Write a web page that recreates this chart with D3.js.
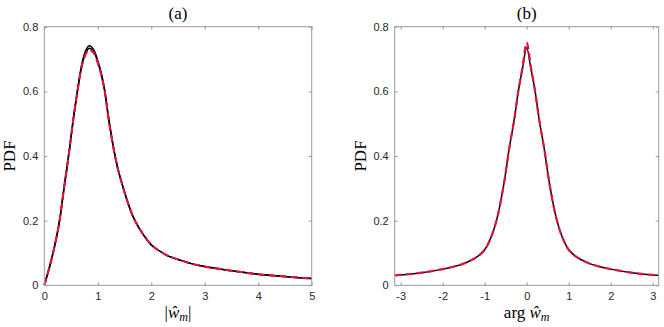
<!DOCTYPE html>
<html><head><meta charset="utf-8">
<script src="https://cdn.jsdelivr.net/npm/d3@7"></script>
<style>body{margin:0;background:#fff}</style></head>
<body><svg id="c" width="664" height="327"></svg>
<script>
// ---- data: panel (a) |w_m| ----
const magX   = [0, 0.1, 0.17, 0.23, 0.29, 0.36, 0.47, 0.54, 0.62, 0.68, 0.72, 0.78, 0.84, 0.92, 1.0, 1.06, 1.13, 1.2, 1.29, 1.37, 1.45, 1.55, 1.66, 1.77, 1.88, 2.0, 2.13, 2.3, 2.54, 2.75, 3.0, 3.3, 3.6, 4.0, 4.5, 5.0];
const magBlackA = [0, 0.058, 0.105, 0.15, 0.205, 0.29, 0.42, 0.512, 0.603, 0.666, 0.698, 0.728, 0.741, 0.73, 0.695, 0.66, 0.603, 0.52, 0.43, 0.365, 0.316, 0.262, 0.212, 0.178, 0.15, 0.125, 0.109, 0.092, 0.078, 0.067, 0.058, 0.05, 0.043, 0.034, 0.027, 0.021];
const magBlackB = [0, 0.058, 0.105, 0.15, 0.205, 0.29, 0.42, 0.51, 0.6, 0.662, 0.692, 0.72, 0.733, 0.724, 0.69, 0.656, 0.6, 0.518, 0.428, 0.364, 0.316, 0.262, 0.212, 0.178, 0.15, 0.125, 0.109, 0.092, 0.078, 0.067, 0.058, 0.05, 0.043, 0.034, 0.027, 0.021];
const magRed    = [0, 0.058, 0.105, 0.15, 0.205, 0.29, 0.42, 0.51, 0.6, 0.66, 0.69, 0.717, 0.728, 0.72, 0.688, 0.655, 0.6, 0.518, 0.428, 0.364, 0.316, 0.262, 0.212, 0.178, 0.15, 0.125, 0.109, 0.092, 0.078, 0.067, 0.058, 0.05, 0.043, 0.034, 0.027, 0.021];
// ---- data: panel (b) arg w_m ----
const argX     = [-3.1416, -3.0, -2.5, -2.0, -1.7, -1.5, -1.3, -1.15, -1.0, -0.85, -0.7, -0.54, -0.42, -0.3, -0.2, -0.1, 0, 0.1, 0.2, 0.3, 0.42, 0.54, 0.7, 0.85, 1.0, 1.15, 1.3, 1.5, 1.7, 2.0, 2.5, 3.0, 3.1416];
const argBlack = [0.031, 0.032, 0.039, 0.05, 0.059, 0.067, 0.079, 0.091, 0.11, 0.148, 0.21, 0.316, 0.42, 0.51, 0.6, 0.67, 0.735, 0.67, 0.6, 0.51, 0.42, 0.316, 0.21, 0.148, 0.11, 0.091, 0.079, 0.067, 0.059, 0.05, 0.039, 0.032, 0.031];
const argRed   = [0.031, 0.032, 0.039, 0.05, 0.059, 0.067, 0.079, 0.091, 0.11, 0.148, 0.21, 0.316, 0.42, 0.51, 0.6, 0.675, 0.751, 0.675, 0.6, 0.51, 0.42, 0.316, 0.21, 0.148, 0.11, 0.091, 0.079, 0.067, 0.059, 0.05, 0.039, 0.032, 0.031];
// ---- ticks ----
const magTicks = [0, 1, 2, 3, 4, 5];
const argTicks = [-3, -2, -1, 0, 1, 2, 3];
const pdfTicks = [0, 0.2, 0.4, 0.6, 0.8];
const titles = ["(a)", "(b)"];

const svg = d3.select("#c");
const axisCol = "#9a9a9a", textCol = "#262626";
const tickFont = "'Liberation Sans', Arial, sans-serif";
const serif = "'Liberation Serif', 'DejaVu Serif', serif";

function panel(cfg) {
  const x = d3.scaleLinear().domain(cfg.xdom).range([cfg.x0, cfg.x1]);
  const y = d3.scaleLinear().domain([0, 0.8]).range([285.3, 26.7]);
  const g = svg.append("g");
  const line = (ys) => d3.line().x((d, i) => x(cfg.xs[i])).y(d => y(d)).curve(d3.curveCatmullRom.alpha(0.5))(ys);
  cfg.blacks.forEach(b => g.append("path").attr("d", line(b)).attr("fill", "none")
    .attr("stroke", "#000").attr("stroke-width", 1.5));
  g.append("path").attr("d", line(cfg.red)).attr("fill", "none")
    .attr("stroke", "#e0143c").attr("stroke-width", 2.2).attr("stroke-dasharray", "7,4");
  const style = a => {
    a.select(".domain").remove();
    a.selectAll(".tick line").attr("stroke", axisCol);
    a.selectAll(".tick text").attr("fill", textCol).style("font-family", tickFont).style("font-size", "11px");
  };
  g.append("g").attr("transform", `translate(0,${y(0)})`)
    .call(d3.axisBottom(x).tickValues(cfg.xticks).tickSize(-3).tickPadding(7).tickFormat(d => String(d))).call(style);
  g.append("g").attr("transform", `translate(0,${y(0.8)})`)
    .call(d3.axisTop(x).tickValues(cfg.xticks).tickSize(-3).tickFormat("")).call(style);
  g.append("g").attr("transform", `translate(${cfg.x0},0)`)
    .call(d3.axisLeft(y).tickValues(pdfTicks).tickSize(-3).tickPadding(6).tickFormat(d => d === 0 ? "0" : d3.format(".1f")(d))).call(style);
  g.append("g").attr("transform", `translate(${cfg.x1},0)`)
    .call(d3.axisRight(y).tickValues(pdfTicks).tickSize(-3).tickFormat("")).call(style);
  g.append("rect").attr("x", cfg.x0).attr("y", y(0.8)).attr("width", cfg.x1 - cfg.x0).attr("height", y(0) - y(0.8))
    .attr("fill", "none").attr("stroke", axisCol).attr("stroke-width", 1);
  g.append("text").attr("x", (cfg.x0 + cfg.x1) / 2).attr("y", 19).attr("text-anchor", "middle")
    .style("font-family", serif).style("font-size", "17px").attr("fill", "#000").text(cfg.title);
  g.append("text").attr("transform", `translate(${cfg.x0 - 35},${(y(0) + y(0.8)) / 2}) rotate(-90)`)
    .attr("text-anchor", "middle").attr("dy", "0.35em")
    .style("font-family", serif).style("font-size", "17px").attr("fill", "#000").text("PDF");
  const t = g.append("text").attr("x", (cfg.x0 + cfg.x1) / 2).attr("y", 318).attr("text-anchor", "middle")
    .style("font-family", serif).style("font-size", "17px").attr("fill", "#000");
  cfg.xlabel(t);
}

panel({
  x0: 44.3, x1: 311.7, xdom: [0, 5], xs: magX, blacks: [magBlackA, magBlackB], red: magRed,
  xticks: magTicks, title: titles[0],
  xlabel: t => {
    t.append("tspan").text("|");
    t.append("tspan").style("font-style", "italic").text("\u0175");
    t.append("tspan").style("font-style", "italic").style("font-size", "12px").attr("dy", 3).text("m");
    t.append("tspan").attr("dy", -3).text("|");
  }
});
panel({
  x0: 394.7, x1: 658.7, xdom: [-Math.PI, Math.PI], xs: argX, blacks: [argBlack], red: argRed,
  xticks: argTicks, title: titles[1],
  xlabel: t => {
    t.append("tspan").text("arg ");
    t.append("tspan").style("font-style", "italic").text("\u0175");
    t.append("tspan").style("font-style", "italic").style("font-size", "12px").attr("dy", 3).text("m");
  }
});
</script></body></html>
